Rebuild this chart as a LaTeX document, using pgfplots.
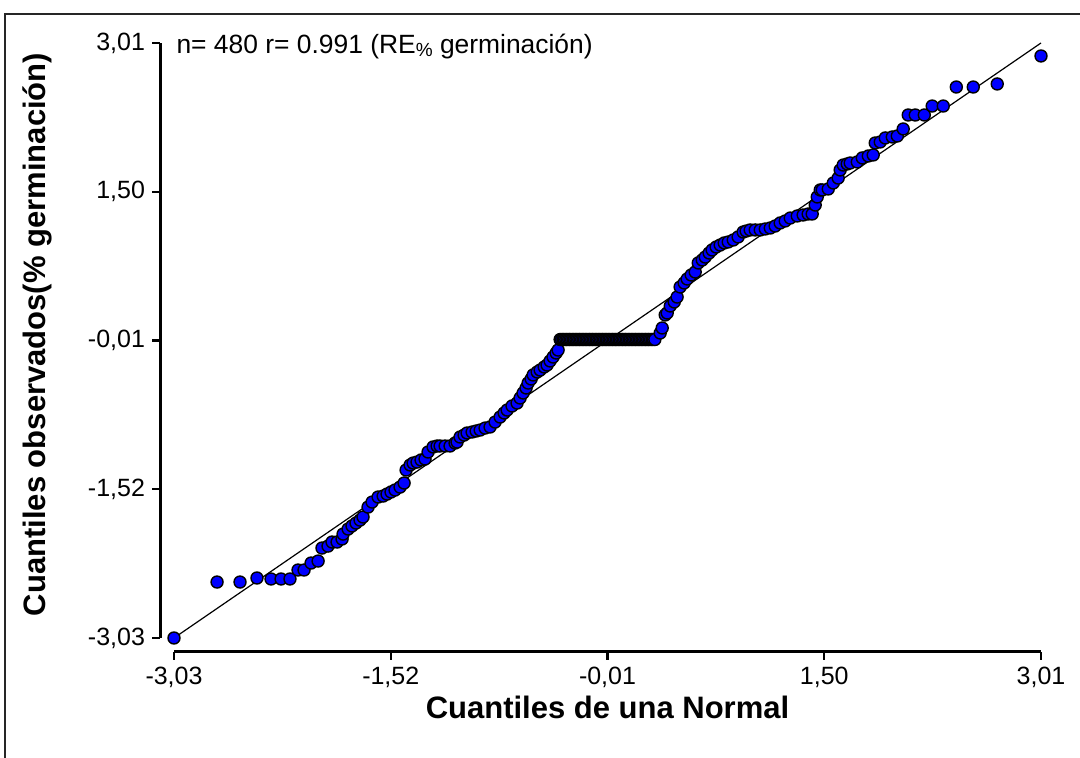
\documentclass[border=0pt]{standalone}
\usepackage{pgfplots}
\pgfplotsset{compat=1.18}
\usepackage{fontspec}
\setmainfont{Liberation Sans}
\begin{document}
\begin{tikzpicture}
\useasboundingbox (0,0) rectangle (540pt,379pt);
\draw[line width=0.8pt, black!85] (2.5pt,-5pt) -- (2.5pt,372pt) -- (545pt,372pt);
\begin{axis}[
  at={(87pt,60pt)}, anchor=south west,
  scale only axis, width=433.5pt, height=297.5pt,
  xmin=-3.03, xmax=3.01, ymin=-3.03, ymax=3.01,
  clip=false,
  axis x line*=bottom, axis y line*=left,
  axis x line shift=7pt, axis y line shift=7pt,
  axis line style={-, line width=1.5pt},
  tick align=outside, major tick length=4pt,
  tick style={black, line width=1.2pt},
  xtick={-3.03,-1.52,-0.01,1.50,3.01},
  xticklabels={{-3,03},{-1,52},{-0,01},{1,50},{3,01}},
  ytick={-3.03,-1.52,-0.01,1.50,3.01},
  yticklabels={{-3,03},{-1,52},{-0,01},{1,50},{3,01}},
  tick label style={font=\fontsize{12.5}{14}\selectfont},
  xlabel={Cuantiles de una Normal},
  ylabel={Cuantiles observados(\% germinación)},
  label style={font=\fontsize{15.5}{17}\selectfont\bfseries},
  xlabel style={at={(axis description cs:0.5,-0.116)}, anchor=center},
  ylabel style={at={(axis description cs:-0.157,0.51)}, anchor=center},
]
\addplot[only marks, mark=*, mark size=3pt,
  mark options={fill=blue, draw=black, line width=0.7pt}] coordinates {
(-3.03,-3.03) (-2.730,-2.462) (-2.570,-2.462) (-2.452,-2.421) (-2.354,-2.431)
(-2.284,-2.431) (-2.222,-2.431) (-2.166,-2.340) (-2.124,-2.340) (-2.075,-2.269)
(-2.026,-2.249) (-1.999,-2.117) (-1.957,-2.097) (-1.929,-2.056) (-1.894,-2.056)
(-1.859,-2.025) (-1.852,-1.975) (-1.817,-1.924) (-1.790,-1.893) (-1.762,-1.863)
(-1.734,-1.833) (-1.713,-1.802) (-1.678,-1.701) (-1.650,-1.650) (-1.608,-1.599)
(-1.573,-1.589) (-1.546,-1.569) (-1.518,-1.548) (-1.490,-1.528) (-1.455,-1.498)
(-1.427,-1.457) (-1.413,-1.325) (-1.385,-1.274) (-1.364,-1.254) (-1.337,-1.244)
(-1.309,-1.223) (-1.281,-1.213) (-1.260,-1.142) (-1.225,-1.091) (-1.197,-1.081)
(-1.176,-1.081) (-1.141,-1.081) (-1.107,-1.081) (-1.072,-1.051) (-1.058,-1.041)
(-1.037,-0.990) (-1.009,-0.970) (-0.988,-0.949) (-0.953,-0.939) (-0.925,-0.929)
(-0.897,-0.919) (-0.863,-0.899) (-0.828,-0.888) (-0.793,-0.838) (-0.758,-0.787)
(-0.730,-0.746) (-0.709,-0.716) (-0.675,-0.675) (-0.640,-0.645) (-0.619,-0.594)
(-0.598,-0.543) (-0.577,-0.492) (-0.563,-0.442) (-0.542,-0.401) (-0.528,-0.360)
(-0.500,-0.330) (-0.479,-0.310) (-0.451,-0.279) (-0.431,-0.259) (-0.410,-0.218)
(-0.389,-0.178) (-0.368,-0.137) (-0.354,-0.107)
(-0.34,0) (-0.33,0) (-0.32,0) (-0.31,0) (-0.30,0) (-0.29,0) (-0.28,0) (-0.27,0)
(-0.26,0) (-0.25,0) (-0.24,0) (-0.23,0) (-0.22,0) (-0.21,0) (-0.20,0) (-0.19,0)
(-0.18,0) (-0.17,0) (-0.16,0) (-0.15,0) (-0.14,0) (-0.13,0) (-0.12,0) (-0.11,0)
(-0.10,0) (-0.09,0) (-0.08,0) (-0.07,0) (-0.06,0) (-0.05,0) (-0.04,0) (-0.03,0)
(-0.02,0) (-0.01,0) (0.00,0) (0.01,0) (0.02,0) (0.03,0) (0.04,0) (0.05,0)
(0.06,0) (0.07,0) (0.08,0) (0.09,0) (0.10,0) (0.11,0) (0.12,0) (0.13,0)
(0.14,0) (0.15,0) (0.16,0) (0.17,0) (0.18,0) (0.19,0) (0.20,0) (0.21,0)
(0.22,0) (0.23,0) (0.24,0) (0.25,0) (0.26,0) (0.27,0) (0.28,0) (0.29,0)
(0.30,0) (0.31,0) (0.32,0)
(0.357,0.066) (0.371,0.117) (0.392,0.249) (0.406,0.269) (0.427,0.340)
(0.455,0.381) (0.475,0.431) (0.496,0.533) (0.524,0.574) (0.545,0.614)
(0.573,0.655) (0.601,0.685) (0.622,0.777) (0.650,0.807) (0.671,0.837)
(0.698,0.878) (0.719,0.909) (0.747,0.939) (0.775,0.959) (0.803,0.980)
(0.831,0.990) (0.866,1.010) (0.900,1.041) (0.935,1.091) (0.956,1.101)
(0.984,1.112) (1.019,1.112) (1.054,1.112) (1.089,1.122) (1.124,1.132)
(1.158,1.152) (1.193,1.183) (1.228,1.203) (1.263,1.233) (1.312,1.254)
(1.353,1.264) (1.388,1.274) (1.416,1.274) (1.437,1.365) (1.451,1.447)
(1.472,1.518) (1.486,1.518) (1.528,1.528) (1.563,1.589) (1.597,1.639)
(1.611,1.721) (1.632,1.771) (1.660,1.782) (1.681,1.792) (1.730,1.802)
(1.765,1.843) (1.807,1.863) (1.841,1.873) (1.855,1.995) (1.890,2.005)
(1.925,2.046) (1.974,2.056) (2.009,2.066) (2.050,2.137) (2.085,2.279)
(2.134,2.279) (2.197,2.279) (2.252,2.370) (2.329,2.370) (2.420,2.563)
(2.538,2.563) (2.705,2.594) (3.01,2.878)
};
\addplot[black, line width=0.6pt] coordinates {(-3.03,-3.03) (3.01,3.01)};
\node[anchor=west, font=\fontsize{13.2}{15}\selectfont, inner sep=0pt] at (axis cs:-3.015,2.97)
  {n= 480 r= 0.991 (RE{\fontsize{9.5}{9.5}\selectfont\raisebox{-1.4pt}{\%}} germinación)};
\end{axis}
\end{tikzpicture}
\end{document}
